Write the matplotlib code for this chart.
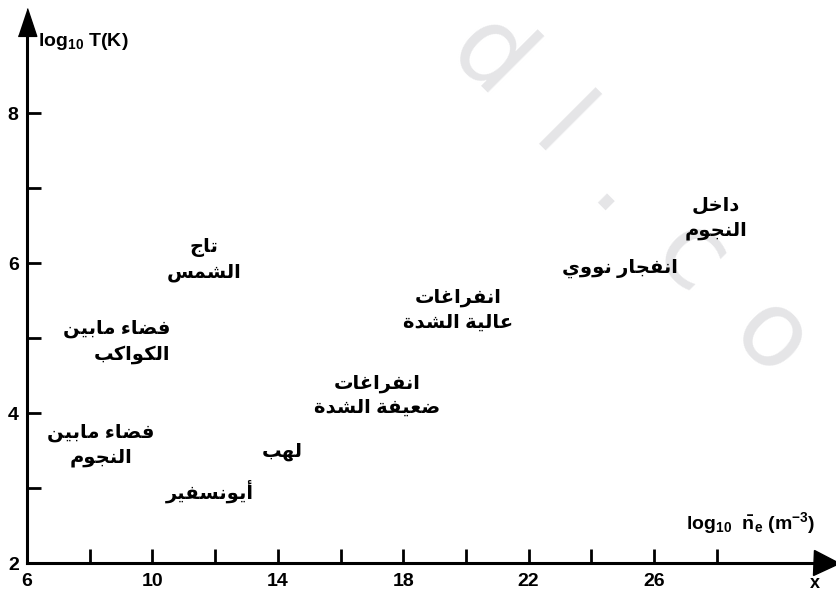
import matplotlib
matplotlib.use("Agg")
import matplotlib.pyplot as plt

plt.rcParams['font.family'] = ['Liberation Sans', 'DejaVu Sans']
plt.rcParams['mathtext.default'] = 'regular'

# data: regions in the (log10 n_e, log10 T) plane
labels = ["تاج\nالشمس",
          "فضاء مابين\nالكواكب",
          "فضاء مابين\nالنجوم",
          "لهب",
          "أيونسفير",
          "انفراغات\nضعيفة الشدة",
          "انفراغات\nعالية الشدة",
          "انفجار نووي",
          "داخل\nالنجوم"]
log_ne = [11.65, 8.87, 8.36, 14.13, 11.84, 17.16, 19.75, 24.9, 27.98]
log_T = [6.04, 4.95, 3.57, 3.48, 2.95, 4.23, 5.37, 5.93, 6.59]
align = ["center", "right", "center", "center", "center", "center", "center", "center", "center"]

x_ticks = [6, 8, 10, 12, 14, 16, 18, 20, 22, 24, 26, 28]
x_ticklabels = ["6", "", "10", "", "14", "", "18", "", "22", "", "26", ""]
y_ticks = [2, 3, 4, 5, 6, 7, 8]
y_ticklabels = ["2", "", "4", "", "6", "", "8"]

# arabic presentation forms: iso, final, initial, medial
FORMS = {
    'ء': (0xFE80,), 'أ': (0xFE83, 0xFE84), 'ا': (0xFE8D, 0xFE8E),
    'ب': (0xFE8F, 0xFE90, 0xFE91, 0xFE92), 'ة': (0xFE93, 0xFE94),
    'ت': (0xFE95, 0xFE96, 0xFE97, 0xFE98), 'ج': (0xFE9D, 0xFE9E, 0xFE9F, 0xFEA0),
    'خ': (0xFEA5, 0xFEA6, 0xFEA7, 0xFEA8), 'د': (0xFEA9, 0xFEAA),
    'ر': (0xFEAD, 0xFEAE), 'س': (0xFEB1, 0xFEB2, 0xFEB3, 0xFEB4),
    'ش': (0xFEB5, 0xFEB6, 0xFEB7, 0xFEB8), 'ض': (0xFEBD, 0xFEBE, 0xFEBF, 0xFEC0),
    'ع': (0xFEC9, 0xFECA, 0xFECB, 0xFECC), 'غ': (0xFECD, 0xFECE, 0xFECF, 0xFED0),
    'ف': (0xFED1, 0xFED2, 0xFED3, 0xFED4), 'ك': (0xFED9, 0xFEDA, 0xFEDB, 0xFEDC),
    'ل': (0xFEDD, 0xFEDE, 0xFEDF, 0xFEE0), 'م': (0xFEE1, 0xFEE2, 0xFEE3, 0xFEE4),
    'ن': (0xFEE5, 0xFEE6, 0xFEE7, 0xFEE8), 'ه': (0xFEE9, 0xFEEA, 0xFEEB, 0xFEEC),
    'و': (0xFEED, 0xFEEE), 'ي': (0xFEF1, 0xFEF2, 0xFEF3, 0xFEF4),
}


def shape_line(s):
    out = []
    for i, c in enumerate(s):
        f = FORMS.get(c)
        if f is None:
            out.append(c)
            continue
        prev = s[i - 1] if i > 0 else None
        nxt = s[i + 1] if i + 1 < len(s) else None
        join_prev = (prev in FORMS and len(FORMS[prev]) == 4 and len(f) > 1)
        join_next = (len(f) == 4 and nxt in FORMS and len(FORMS[nxt]) > 1)
        if join_prev and join_next:
            code = f[3]
        elif join_prev:
            code = f[1]
        elif join_next:
            code = f[2]
        else:
            code = f[0]
        out.append(chr(code))
    return "".join(out)[::-1]


def shape(text):
    return "\n".join(shape_line(l) for l in text.split("\n"))


def main():
    fig = plt.figure(figsize=(8.36, 5.9), dpi=100)
    ax = fig.add_axes([27 / 836, 27 / 590, 799 / 836, 541 / 590])
    ax.set_xlim(6, 6 + 799 / 31.35)
    ax.set_ylim(2, 2 + 541 / 75)

    # watermark
    fig.text(631 / 836, 1 - 195 / 590, "d\u2002l\u2002.\u2002c\u2002o", fontsize=76,
             color="#e5e5e7", family="DejaVu Sans", rotation=-45,
             ha="center", va="center", zorder=-5)

    for s in ["top", "right"]:
        ax.spines[s].set_visible(False)
    for s in ["left", "bottom"]:
        ax.spines[s].set_linewidth(2.2)
    ax.patch.set_alpha(0)

    ax.plot(1, 0, ">k", markersize=18, transform=ax.transAxes, clip_on=False)
    ax.plot(0, 1, "k", marker=[(-1, -1.5), (1, -1.5), (0, 1.5)], markersize=20,
            transform=ax.transAxes, clip_on=False)

    ax.set_xticks(x_ticks)
    ax.set_xticklabels(x_ticklabels)
    ax.set_yticks(y_ticks)
    ax.set_yticklabels(y_ticklabels)
    ax.tick_params(direction="in", length=10, width=2, labelsize=14)
    ax.tick_params(axis="x", pad=7)
    ax.tick_params(axis="y", pad=6)
    for t in ax.get_xticklabels() + ax.get_yticklabels():
        t.set_fontweight("bold")

    for lab, x, y, a in zip(labels, log_ne, log_T, align):
        ax.text(x, y, shape(lab), ha="center", va="center", multialignment=a,
                fontsize=14, fontweight="bold", linespacing=1.5)

    fig.text(38 / 836, 1 - 42 / 590, "log$_{10}$ T(K)", fontsize=14,
             fontweight="bold", ha="left", va="center")
    fig.text(686 / 836, 1 - 523 / 590, r"log$_{10}$  $\bar{n}_e$ (m$^{-3}$)",
             fontsize=14, fontweight="bold", ha="left", va="center")
    fig.text(815 / 836, 1 - 583 / 590, "x", fontsize=13, fontweight="bold",
             ha="center", va="center")

    fig.savefig("out.png", dpi=100)


if __name__ == "__main__":
    main()
